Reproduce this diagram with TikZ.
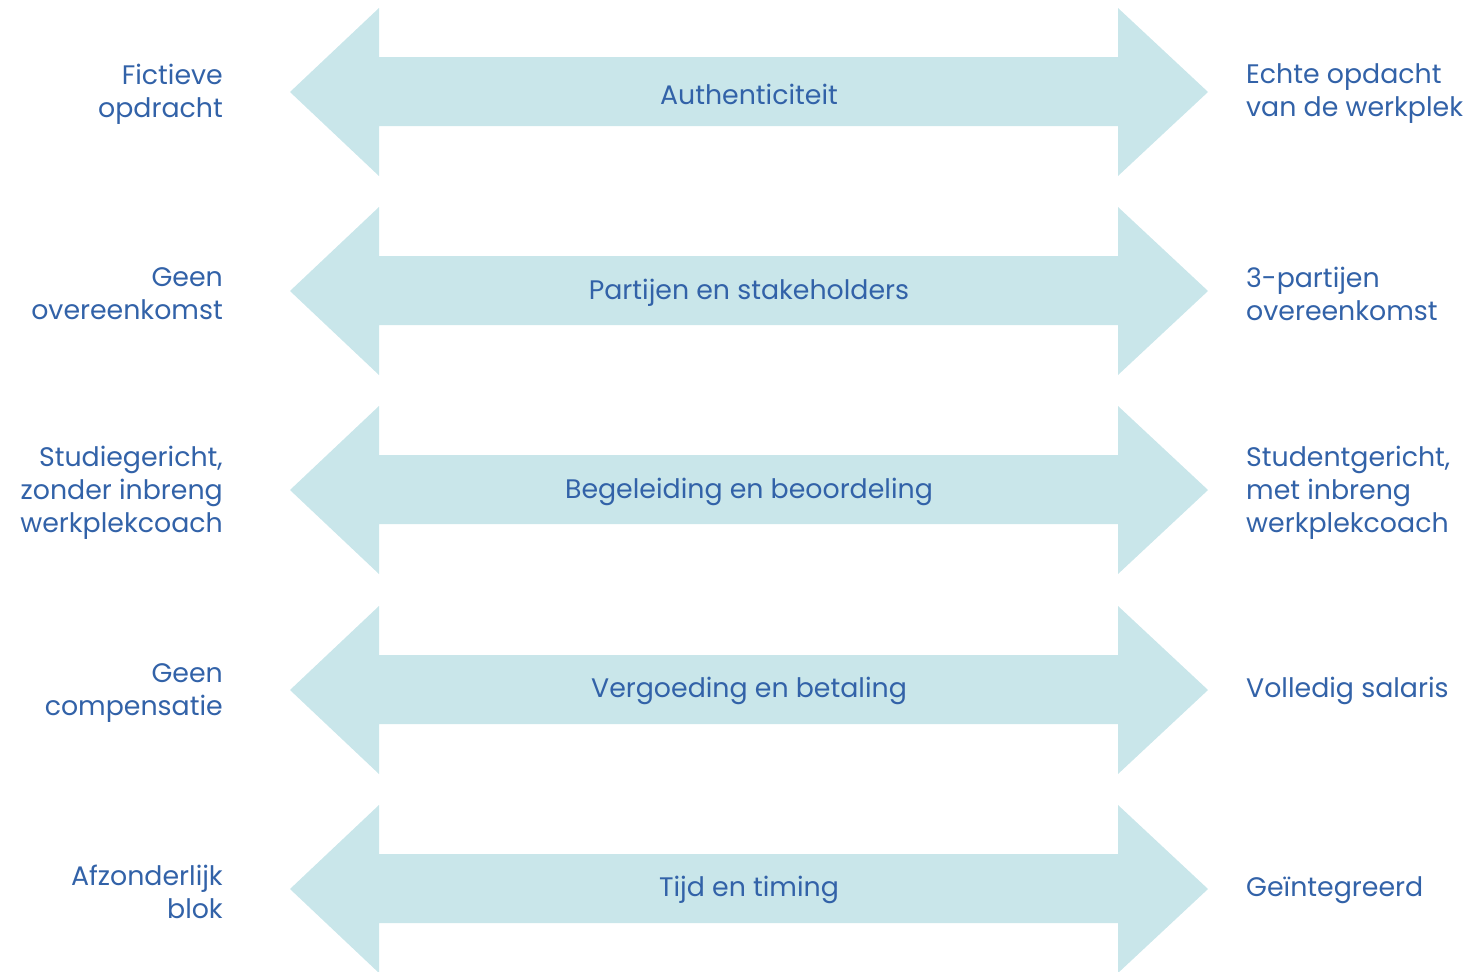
\documentclass[tikz,border=0pt]{standalone}
\usepackage{fontspec}
\setmainfont{Poppins}
\definecolor{arrowfill}{RGB}{201,230,234}
\definecolor{labelblue}{RGB}{50,98,168}
\tikzset{
    arrowbody/.style={fill=arrowfill, draw=none},
    midlabel/.style={text=labelblue, inner sep=0pt, font=\fontsize{26.8}{33}\selectfont},
    leftlabel/.style={text=labelblue, inner sep=0pt, anchor=east, align=right, font=\fontsize{26.8}{33}\selectfont},
    rightlabel/.style={text=labelblue, inner sep=0pt, anchor=west, align=left, font=\fontsize{26.8}{33}\selectfont}
}
\begin{document}
\begin{tikzpicture}[x=1pt, y=-1pt]
                \useasboundingbox (0,0) rectangle (1473,972);

                % Draw the double arrows
                \foreach \y in {92,291,490,690,889}
                    \fill[arrowbody] (290,\y) -- (379,\y-84) -- (379,\y-35) -- (1118,\y-35) -- (1118,\y-84)
                        -- (1208,\y) -- (1118,\y+84) -- (1118,\y+34) -- (379,\y+34) -- (379,\y+84) -- cycle;

                % Add arrow labels
                \node[midlabel] (auth) at (749,94) {Authenticiteit};
                \node[midlabel] (part) at (749,293) {Partijen en stakeholders};
                \node[midlabel] (bege) at (749,492) {Begeleiding en beoordeling};
                \node[midlabel] (verg) at (749,691) {Vergoeding en betaling};
                \node[midlabel] (tijd) at (749,890) {Tijd en timing};

                % Left ends
                \node[leftlabel] (fict) at (223,94) {Fictieve\\opdracht};
                \node[leftlabel] (geenov) at (223,294) {Geen\\overeenkomst};
                \node[leftlabel] (stud) at (223,493) {Studiegericht,\\zonder inbreng\\werkplekcoach};
                \node[leftlabel] (geencomp) at (223,693) {Geen\\compensatie};
                \node[leftlabel] (afz) at (223,892) {Afzonderlijk\\blok};

                % Right ends
                \node[rightlabel] (echt) at (1246,94) {Echte opdacht\\van de werkplek};
                \node[rightlabel] (drie) at (1246,294) {3-partijen\\overeenkomst};
                \node[rightlabel] (studt) at (1246,493) {Studentgericht,\\met inbreng\\werkplekcoach};
                \node[rightlabel] (voll) at (1246,691) {Volledig salaris};
                \node[rightlabel] (geint) at (1246,890) {Geïntegreerd};
            \end{tikzpicture}
\end{document}
